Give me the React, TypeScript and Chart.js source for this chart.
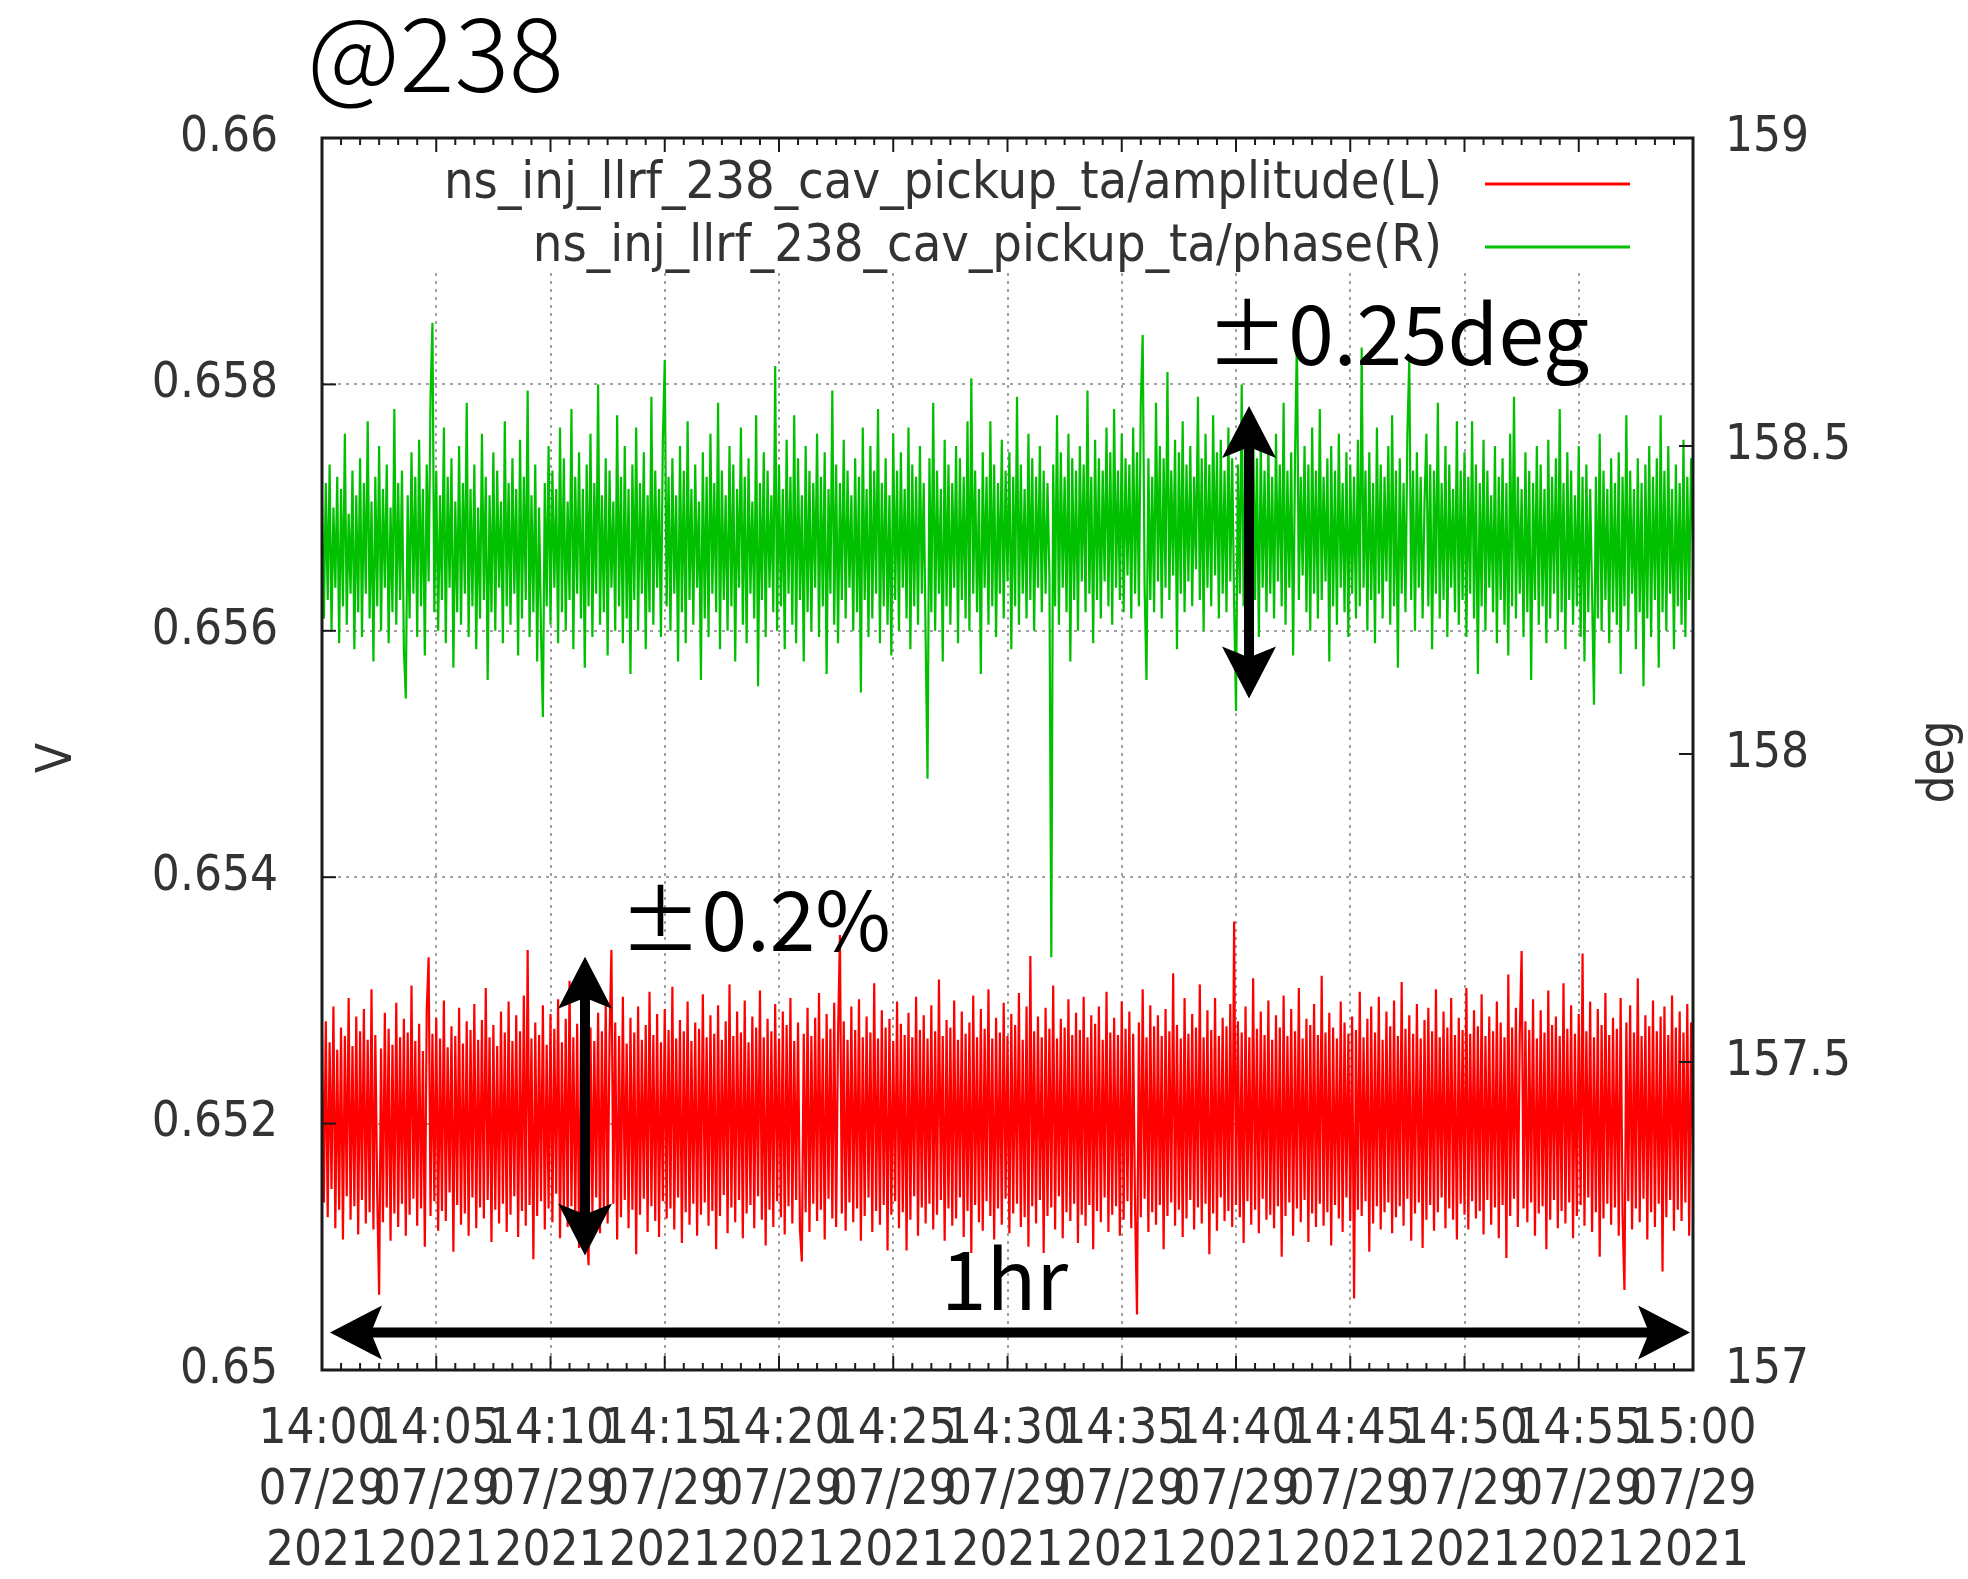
import React, { useEffect, useRef } from 'react';
import { Chart, registerables } from 'chart.js';

Chart.register(...registerables);

const W = 1968;
const H = 1579;

// ---------- data ----------
const timeTickLabels = ['14:00', '14:05', '14:10', '14:15', '14:20', '14:25', '14:30', '14:35', '14:40', '14:45', '14:50', '14:55', '15:00'];
const dateTickLabel = '07/29';
const yearTickLabel = '2021';
const ampTickValues = [0.65, 0.652, 0.654, 0.656, 0.658, 0.66];
const ampTickLabels = ['0.65', '0.652', '0.654', '0.656', '0.658', '0.66'];
const phaseTickValues = [157, 157.5, 158, 158.5, 159];
const phaseTickLabels = ['157', '157.5', '158', '158.5', '159'];
const seriesNames = ['ns_inj_llrf_238_cav_pickup_ta/amplitude(L)', 'ns_inj_llrf_238_cav_pickup_ta/phase(R)'];
const SAMPLE_STEP_MIN = 1 / 12; // one sample every 5 s, x in minutes after 14:00

const amplitude = [
  0.65274, 0.65136, 0.65283, 0.65124, 0.65266, 0.65147, 0.65295, 0.65115, 0.65260, 0.65130, 0.65278, 0.65106, 0.65271, 0.65141, 0.65302, 0.65122, 0.65263, 0.65133, 0.65287, 0.65110,
  0.65275, 0.65138, 0.65293, 0.65119, 0.65268, 0.65128, 0.65309, 0.65114, 0.65272, 0.65143, 0.65061, 0.65261, 0.65120, 0.65290, 0.65132, 0.65277, 0.65105, 0.65264, 0.65127, 0.65298,
  0.65116, 0.65270, 0.65135, 0.65285, 0.65109, 0.65274, 0.65126, 0.65312, 0.65139, 0.65267, 0.65117, 0.65281, 0.65131, 0.65259, 0.65100, 0.65292, 0.65335, 0.65125, 0.65273, 0.65137,
  0.65286, 0.65113, 0.65269, 0.65129, 0.65300, 0.65121, 0.65262, 0.65144, 0.65279, 0.65096, 0.65271, 0.65134, 0.65294, 0.65118, 0.65265, 0.65127, 0.65283, 0.65109, 0.65276, 0.65140,
  0.65297, 0.65115, 0.65268, 0.65132, 0.65284, 0.65123, 0.65310, 0.65138, 0.65270, 0.65104, 0.65280, 0.65130, 0.65263, 0.65119, 0.65291, 0.65135, 0.65274, 0.65112, 0.65299, 0.65126,
  0.65267, 0.65141, 0.65288, 0.65108, 0.65275, 0.65129, 0.65304, 0.65117, 0.65341, 0.65134, 0.65269, 0.65090, 0.65282, 0.65125, 0.65272, 0.65137, 0.65296, 0.65114, 0.65264, 0.65131,
  0.65289, 0.65120, 0.65277, 0.65143, 0.65301, 0.65107, 0.65266, 0.65128, 0.65285, 0.65116, 0.65316, 0.65133, 0.65270, 0.65122, 0.65281, 0.65099, 0.65273, 0.65136, 0.65293, 0.65113,
  0.65085, 0.65278, 0.65127, 0.65267, 0.65140, 0.65290, 0.65111, 0.65275, 0.65132, 0.65298, 0.65119, 0.65269, 0.65341, 0.65135, 0.65282, 0.65106, 0.65271, 0.65124, 0.65303, 0.65138,
  0.65265, 0.65115, 0.65286, 0.65130, 0.65274, 0.65094, 0.65295, 0.65126, 0.65268, 0.65139, 0.65280, 0.65112, 0.65307, 0.65133, 0.65272, 0.65121, 0.65289, 0.65108, 0.65266, 0.65137,
  0.65293, 0.65123, 0.65276, 0.65131, 0.65311, 0.65114, 0.65269, 0.65140, 0.65284, 0.65103, 0.65275, 0.65128, 0.65299, 0.65118, 0.65267, 0.65135, 0.65282, 0.65109, 0.65277, 0.65126,
  0.65305, 0.65136, 0.65270, 0.65117, 0.65288, 0.65129, 0.65273, 0.65098, 0.65296, 0.65125, 0.65268, 0.65142, 0.65283, 0.65111, 0.65313, 0.65132, 0.65271, 0.65120, 0.65291, 0.65138,
  0.65274, 0.65107, 0.65300, 0.65127, 0.65266, 0.65134, 0.65287, 0.65115, 0.65278, 0.65141, 0.65308, 0.65122, 0.65270, 0.65101, 0.65285, 0.65130, 0.65275, 0.65116, 0.65297, 0.65137,
  0.65269, 0.65124, 0.65291, 0.65110, 0.65280, 0.65133, 0.65302, 0.65119, 0.65267, 0.65138, 0.65282, 0.65114, 0.65088, 0.65273, 0.65128, 0.65294, 0.65112, 0.65271, 0.65135, 0.65286,
  0.65121, 0.65306, 0.65130, 0.65269, 0.65106, 0.65289, 0.65139, 0.65277, 0.65123, 0.65298, 0.65116, 0.65272, 0.65353, 0.65127, 0.65283, 0.65113, 0.65268, 0.65136, 0.65295, 0.65120,
  0.65276, 0.65131, 0.65301, 0.65105, 0.65270, 0.65125, 0.65287, 0.65140, 0.65274, 0.65112, 0.65314, 0.65129, 0.65269, 0.65118, 0.65292, 0.65134, 0.65278, 0.65097, 0.65285, 0.65126,
  0.65267, 0.65137, 0.65299, 0.65115, 0.65281, 0.65128, 0.65272, 0.65097, 0.65290, 0.65122, 0.65270, 0.65141, 0.65303, 0.65109, 0.65276, 0.65132, 0.65288, 0.65119, 0.65269, 0.65135,
  0.65296, 0.65114, 0.65275, 0.65126, 0.65317, 0.65138, 0.65271, 0.65105, 0.65284, 0.65131, 0.65278, 0.65117, 0.65300, 0.65123, 0.65268, 0.65140, 0.65291, 0.65108, 0.65273, 0.65129,
  0.65282, 0.65095, 0.65304, 0.65134, 0.65270, 0.65120, 0.65293, 0.65113, 0.65277, 0.65137, 0.65309, 0.65125, 0.65269, 0.65106, 0.65286, 0.65131, 0.65274, 0.65118, 0.65298, 0.65139,
  0.65271, 0.65111, 0.65289, 0.65127, 0.65280, 0.65135, 0.65306, 0.65116, 0.65268, 0.65124, 0.65295, 0.65100, 0.65336, 0.65133, 0.65275, 0.65119, 0.65287, 0.65138, 0.65270, 0.65095,
  0.65294, 0.65125, 0.65277, 0.65132, 0.65312, 0.65114, 0.65269, 0.65141, 0.65285, 0.65107, 0.65278, 0.65128, 0.65301, 0.65121, 0.65272, 0.65135, 0.65290, 0.65103, 0.65276, 0.65126,
  0.65303, 0.65117, 0.65270, 0.65134, 0.65288, 0.65098, 0.65281, 0.65129, 0.65295, 0.65120, 0.65268, 0.65140, 0.65307, 0.65112, 0.65274, 0.65126, 0.65286, 0.65133, 0.65272, 0.65109,
  0.65299, 0.65122, 0.65277, 0.65137, 0.65291, 0.65115, 0.65273, 0.65131, 0.65045, 0.65282, 0.65124, 0.65309, 0.65139, 0.65270, 0.65112, 0.65296, 0.65128, 0.65279, 0.65118, 0.65288,
  0.65134, 0.65271, 0.65098, 0.65293, 0.65125, 0.65275, 0.65136, 0.65322, 0.65117, 0.65280, 0.65130, 0.65269, 0.65108, 0.65302, 0.65123, 0.65273, 0.65138, 0.65289, 0.65114, 0.65278,
  0.65132, 0.65313, 0.65119, 0.65270, 0.65135, 0.65292, 0.65094, 0.65276, 0.65127, 0.65302, 0.65113, 0.65271, 0.65140, 0.65286, 0.65121, 0.65279, 0.65129, 0.65297, 0.65116, 0.65364,
  0.65134, 0.65283, 0.65124, 0.65274, 0.65103, 0.65295, 0.65137, 0.65270, 0.65118, 0.65318, 0.65130, 0.65277, 0.65111, 0.65291, 0.65139, 0.65272, 0.65122, 0.65300, 0.65126, 0.65268,
  0.65115, 0.65288, 0.65133, 0.65278, 0.65092, 0.65304, 0.65125, 0.65271, 0.65136, 0.65293, 0.65109, 0.65275, 0.65131, 0.65310, 0.65120, 0.65269, 0.65138, 0.65285, 0.65104, 0.65280,
  0.65127, 0.65297, 0.65116, 0.65272, 0.65135, 0.65320, 0.65117, 0.65274, 0.65128, 0.65290, 0.65101, 0.65278, 0.65134, 0.65269, 0.65123, 0.65299, 0.65112, 0.65282, 0.65140, 0.65273,
  0.65121, 0.65287, 0.65058, 0.65276, 0.65130, 0.65307, 0.65125, 0.65270, 0.65137, 0.65285, 0.65096, 0.65295, 0.65119, 0.65274, 0.65133, 0.65303, 0.65114, 0.65268, 0.65128, 0.65291,
  0.65136, 0.65279, 0.65111, 0.65300, 0.65124, 0.65271, 0.65133, 0.65315, 0.65117, 0.65277, 0.65139, 0.65288, 0.65105, 0.65273, 0.65127, 0.65297, 0.65136, 0.65269, 0.65099, 0.65284,
  0.65122, 0.65294, 0.65134, 0.65275, 0.65113, 0.65309, 0.65128, 0.65270, 0.65140, 0.65291, 0.65115, 0.65278, 0.65131, 0.65302, 0.65122, 0.65272, 0.65106, 0.65286, 0.65135, 0.65276,
  0.65126, 0.65310, 0.65114, 0.65273, 0.65137, 0.65292, 0.65123, 0.65279, 0.65129, 0.65305, 0.65110, 0.65271, 0.65138, 0.65287, 0.65118, 0.65275, 0.65132, 0.65299, 0.65107, 0.65282,
  0.65134, 0.65270, 0.65091, 0.65321, 0.65125, 0.65278, 0.65139, 0.65294, 0.65116, 0.65272, 0.65340, 0.65131, 0.65283, 0.65120, 0.65276, 0.65136, 0.65301, 0.65109, 0.65269, 0.65127,
  0.65292, 0.65133, 0.65274, 0.65098, 0.65308, 0.65122, 0.65280, 0.65138, 0.65287, 0.65115, 0.65271, 0.65129, 0.65314, 0.65119, 0.65277, 0.65136, 0.65296, 0.65107, 0.65273, 0.65125,
  0.65289, 0.65134, 0.65338, 0.65117, 0.65275, 0.65140, 0.65299, 0.65112, 0.65270, 0.65128, 0.65293, 0.65092, 0.65280, 0.65123, 0.65306, 0.65135, 0.65272, 0.65118, 0.65286, 0.65132,
  0.65277, 0.65109, 0.65302, 0.65126, 0.65065, 0.65282, 0.65137, 0.65296, 0.65114, 0.65274, 0.65131, 0.65318, 0.65120, 0.65271, 0.65139, 0.65288, 0.65106, 0.65279, 0.65128, 0.65300,
  0.65116, 0.65275, 0.65135, 0.65287, 0.65080, 0.65295, 0.65124, 0.65272, 0.65138, 0.65304, 0.65113, 0.65278, 0.65130, 0.65291, 0.65121, 0.65274, 0.65136, 0.65297, 0.65109, 0.65282,
  0.65166,
];

const phase = [
  158.41, 158.22, 158.44, 158.25, 158.47, 158.20, 158.40, 158.27, 158.45, 158.18, 158.43, 158.24, 158.52, 158.21, 158.39, 158.26, 158.46, 158.17, 158.42, 158.23,
  158.48, 158.19, 158.44, 158.26, 158.54, 158.22, 158.41, 158.15, 158.45, 158.24, 158.50, 158.20, 158.43, 158.27, 158.47, 158.18, 158.40, 158.23, 158.56, 158.21,
  158.44, 158.25, 158.46, 158.17, 158.09, 158.42, 158.22, 158.49, 158.26, 158.45, 158.19, 158.51, 158.24, 158.43, 158.16, 158.47, 158.28, 158.58, 158.70, 158.23,
  158.46, 158.20, 158.42, 158.25, 158.53, 158.18, 158.45, 158.27, 158.48, 158.14, 158.41, 158.23, 158.50, 158.21, 158.44, 158.26, 158.57, 158.19, 158.43, 158.24,
  158.47, 158.17, 158.40, 158.22, 158.52, 158.25, 158.45, 158.12, 158.42, 158.23, 158.49, 158.20, 158.46, 158.27, 158.41, 158.18, 158.54, 158.24, 158.44, 158.21,
  158.48, 158.26, 158.43, 158.16, 158.51, 158.22, 158.45, 158.25, 158.59, 158.19, 158.42, 158.23, 158.47, 158.15, 158.40, 158.20, 158.06, 158.44, 158.24, 158.50,
  158.21, 158.46, 158.27, 158.43, 158.18, 158.53, 158.23, 158.48, 158.20, 158.41, 158.25, 158.56, 158.17, 158.45, 158.26, 158.49, 158.22, 158.43, 158.14, 158.47,
  158.24, 158.52, 158.19, 158.44, 158.26, 158.60, 158.21, 158.42, 158.23, 158.48, 158.16, 158.46, 158.27, 158.41, 158.20, 158.55, 158.24, 158.45, 158.18, 158.50,
  158.22, 158.43, 158.13, 158.47, 158.25, 158.53, 158.20, 158.44, 158.26, 158.49, 158.17, 158.42, 158.23, 158.58, 158.21, 158.46, 158.27, 158.43, 158.19, 158.51,
  158.64, 158.24, 158.45, 158.20, 158.48, 158.26, 158.42, 158.15, 158.50, 158.23, 158.46, 158.18, 158.54, 158.25, 158.43, 158.21, 158.47, 158.27, 158.41, 158.12,
  158.49, 158.22, 158.45, 158.19, 158.52, 158.26, 158.44, 158.23, 158.57, 158.17, 158.46, 158.25, 158.42, 158.20, 158.50, 158.24, 158.47, 158.15, 158.43, 158.27,
  158.53, 158.21, 158.45, 158.18, 158.48, 158.26, 158.41, 158.22, 158.55, 158.11, 158.44, 158.25, 158.49, 158.19, 158.46, 158.27, 158.42, 158.23, 158.63, 158.20,
  158.47, 158.24, 158.43, 158.17, 158.51, 158.26, 158.45, 158.21, 158.55, 158.18, 158.48, 158.25, 158.42, 158.15, 158.50, 158.23, 158.46, 158.20, 158.44, 158.27,
  158.52, 158.19, 158.45, 158.24, 158.49, 158.13, 158.43, 158.26, 158.59, 158.21, 158.47, 158.18, 158.44, 158.25, 158.51, 158.22, 158.46, 158.27, 158.42, 158.20,
  158.48, 158.23, 158.45, 158.10, 158.53, 158.25, 158.43, 158.19, 158.50, 158.22, 158.46, 158.26, 158.56, 158.18, 158.44, 158.24, 158.48, 158.21, 158.42, 158.16,
  158.52, 158.25, 158.46, 158.20, 158.49, 158.27, 158.43, 158.22, 158.53, 158.17, 158.47, 158.24, 158.45, 158.21, 158.50, 158.26, 158.44, 158.19, 157.96, 158.48,
  158.23, 158.57, 158.20, 158.46, 158.26, 158.43, 158.15, 158.51, 158.24, 158.47, 158.21, 158.44, 158.27, 158.50, 158.18, 158.48, 158.25, 158.45, 158.22, 158.54,
  158.20, 158.61, 158.26, 158.46, 158.23, 158.43, 158.13, 158.49, 158.27, 158.45, 158.21, 158.54, 158.24, 158.47, 158.19, 158.44, 158.26, 158.51, 158.22, 158.46,
  158.28, 158.49, 158.17, 158.45, 158.24, 158.58, 158.21, 158.47, 158.26, 158.43, 158.22, 158.52, 158.25, 158.48, 158.20, 158.45, 158.27, 158.50, 158.23, 158.46,
  158.26, 158.44, 158.29, 157.67, 158.47, 158.24, 158.55, 158.21, 158.49, 158.27, 158.45, 158.23, 158.52, 158.15, 158.48, 158.25, 158.46, 158.20, 158.50, 158.28,
  158.47, 158.23, 158.59, 158.26, 158.45, 158.18, 158.51, 158.25, 158.48, 158.22, 158.46, 158.28, 158.53, 158.24, 158.49, 158.21, 158.56, 158.27, 158.46, 158.25,
  158.52, 158.23, 158.48, 158.29, 158.47, 158.22, 158.53, 158.26, 158.49, 158.24, 158.57, 158.68, 158.27, 158.12, 158.48, 158.25, 158.45, 158.23, 158.57, 158.28,
  158.50, 158.22, 158.48, 158.27, 158.62, 158.25, 158.46, 158.29, 158.51, 158.17, 158.49, 158.26, 158.54, 158.23, 158.47, 158.28, 158.50, 158.24, 158.45, 158.30,
  158.58, 158.25, 158.48, 158.20, 158.52, 158.27, 158.47, 158.24, 158.55, 158.29, 158.49, 158.22, 158.51, 158.26, 158.46, 158.23, 158.53, 158.28, 158.48, 158.25,
  158.07, 158.47, 158.26, 158.60, 158.24, 158.49, 158.29, 158.46, 158.21, 158.55, 158.25, 158.48, 158.19, 158.51, 158.27, 158.46, 158.23, 158.50, 158.26, 158.45,
  158.22, 158.52, 158.28, 158.47, 158.24, 158.57, 158.21, 158.46, 158.27, 158.49, 158.16, 158.48, 158.68, 158.25, 158.45, 158.29, 158.50, 158.23, 158.47, 158.20,
  158.53, 158.26, 158.46, 158.22, 158.56, 158.25, 158.45, 158.28, 158.48, 158.15, 158.50, 158.24, 158.46, 158.21, 158.52, 158.27, 158.44, 158.23, 158.49, 158.19,
  158.47, 158.26, 158.45, 158.22, 158.51, 158.24, 158.66, 158.27, 158.46, 158.20, 158.49, 158.25, 158.44, 158.18, 158.53, 158.26, 158.47, 158.22, 158.45, 158.28,
  158.50, 158.21, 158.55, 158.24, 158.46, 158.14, 158.48, 158.26, 158.44, 158.23, 158.52, 158.64, 158.25, 158.46, 158.20, 158.49, 158.27, 158.45, 158.22, 158.41,
  158.52, 158.24, 158.47, 158.17, 158.46, 158.26, 158.57, 158.22, 158.44, 158.25, 158.50, 158.19, 158.47, 158.27, 158.43, 158.23, 158.54, 158.21, 158.46, 158.25,
  158.49, 158.19, 158.45, 158.26, 158.54, 158.22, 158.47, 158.13, 158.44, 158.24, 158.51, 158.20, 158.46, 158.27, 158.42, 158.23, 158.50, 158.18, 158.45, 158.25,
  158.48, 158.21, 158.44, 158.16, 158.52, 158.24, 158.58, 158.22, 158.45, 158.26, 158.43, 158.19, 158.49, 158.23, 158.46, 158.12, 158.44, 158.25, 158.50, 158.21,
  158.47, 158.24, 158.43, 158.18, 158.51, 158.22, 158.45, 158.26, 158.48, 158.20, 158.56, 158.23, 158.44, 158.17, 158.49, 158.25, 158.46, 158.21, 158.42, 158.24,
  158.50, 158.19, 158.45, 158.15, 158.47, 158.23, 158.43, 158.26, 158.08, 158.45, 158.22, 158.52, 158.20, 158.46, 158.25, 158.43, 158.18, 158.48, 158.23, 158.44,
  158.21, 158.49, 158.13, 158.45, 158.24, 158.55, 158.20, 158.46, 158.26, 158.43, 158.17, 158.48, 158.23, 158.44, 158.11, 158.47, 158.22, 158.50, 158.19, 158.45,
  158.25, 158.48, 158.14, 158.55, 158.23, 158.46, 158.20, 158.50, 158.26, 158.43, 158.17, 158.47, 158.24, 158.44, 158.21, 158.51, 158.19, 158.45, 158.25, 158.48,
  158.34,
];

// ---------- annotations (data coordinates) ----------
const vArrows = [
  { axis: 'y1', x: 40.57, from: 158.565, to: 158.09 },
  { axis: 'y', x: 11.51, from: 0.653355, to: 0.650929 },
];
const hArrow = { axis: 'y', y: 0.650304, from: 0.35, to: 59.87 };
const notes = [
  { text: '±0.25deg', axis: 'y1', x: 38.7, y: 158.632 },
  { text: '±0.2%', axis: 'y', x: 13.02, y: 0.653404 },
  { text: '1hr', axis: 'y', x: 27.09, y: 0.650483 },
];

// ---------- styles ----------
const RED = '#ff0000';
const GREEN = '#00c000';
const TEXT_GRAY = '#333333';
const GRID_GRAY = '#a0a0a0';
const AXIS_COLOR = '#1a1a1a';
const TICK_FONT_FAMILY = '"DejaVu Sans Condensed", "Liberation Sans Narrow", "DejaVu Sans", sans-serif';
const TICK_FONT_SIZE = 49;
const LEGEND_FONT_SIZE = 52;
const NOTE_FONT = '400 82px "Noto Sans CJK JP", "Noto Sans CJK SC", sans-serif';
const TITLE_FONT = '300 102px "Noto Sans CJK JP", "Noto Sans CJK SC", sans-serif';
const X_MINOR_DIV = 6;
const LEGEND_BOTTOM = 273;
const SERIES_LINE_WIDTH = 2.2;

function drawHead(ctx: CanvasRenderingContext2D, tx: number, ty: number, ux: number, uy: number) {
  const HEAD_LEN = 52, HEAD_HALF = 27, HEAD_NOTCH = 41;
  const px = -uy, py = ux;
  ctx.beginPath();
  ctx.moveTo(tx, ty);
  ctx.lineTo(tx + ux * HEAD_LEN + px * HEAD_HALF, ty + uy * HEAD_LEN + py * HEAD_HALF);
  ctx.lineTo(tx + ux * HEAD_NOTCH, ty + uy * HEAD_NOTCH);
  ctx.lineTo(tx + ux * HEAD_LEN - px * HEAD_HALF, ty + uy * HEAD_LEN - py * HEAD_HALF);
  ctx.closePath();
  ctx.fill();
}

function drawDoubleArrow(ctx: CanvasRenderingContext2D, x1: number, y1: number, x2: number, y2: number) {
  const dx = x2 - x1, dy = y2 - y1;
  const len = Math.hypot(dx, dy);
  const ux = dx / len, uy = dy / len;
  ctx.lineWidth = 10;
  ctx.lineCap = 'butt';
  ctx.beginPath();
  ctx.moveTo(x1 + ux * 30, y1 + uy * 30);
  ctx.lineTo(x2 - ux * 30, y2 - uy * 30);
  ctx.stroke();
  drawHead(ctx, x1, y1, ux, uy);
  drawHead(ctx, x2, y2, -ux, -uy);
}

const overlayPlugin = {
  id: 'gnuplotOverlay',
  beforeDatasetsDraw(chart: any) {
    const { ctx, chartArea: a, scales } = chart;
    const xs = scales.x;
    ctx.save();
    ctx.strokeStyle = GRID_GRAY;
    ctx.lineWidth = 2;
    ctx.setLineDash([3, 5]);
    xs.ticks.forEach((t: any) => {
      if (t.value <= xs.min || t.value >= xs.max) return;
      const px = Math.round(xs.getPixelForValue(t.value));
      ctx.beginPath();
      ctx.moveTo(px, LEGEND_BOTTOM);
      ctx.lineTo(px, a.bottom);
      ctx.stroke();
    });
    ctx.restore();
  },
  afterDatasetsDraw(chart: any) {
    const { ctx, chartArea: a, scales } = chart;
    const xs = scales.x, yl = scales.y, yr = scales.y1;
    const line = (x1: number, y1: number, x2: number, y2: number) => {
      ctx.beginPath();
      ctx.moveTo(x1, y1);
      ctx.lineTo(x2, y2);
      ctx.stroke();
    };
    ctx.save();
    ctx.setLineDash([]);
    // inward ticks
    ctx.strokeStyle = AXIS_COLOR;
    ctx.lineWidth = 2;
    const majors = xs.ticks.map((t: any) => t.value);
    majors.forEach((m: number, i: number) => {
      const px = xs.getPixelForValue(m);
      line(px, a.bottom, px, a.bottom - 14);
      line(px, a.top, px, a.top + 14);
      if (i < majors.length - 1) {
        const step = (majors[i + 1] - m) / X_MINOR_DIV;
        for (let k = 1; k < X_MINOR_DIV; k++) {
          const mp = xs.getPixelForValue(m + k * step);
          line(mp, a.bottom, mp, a.bottom - 7);
          line(mp, a.top, mp, a.top + 7);
        }
      }
    });
    yl.ticks.forEach((t: any) => {
      const py = yl.getPixelForValue(t.value);
      line(a.left, py, a.left + 14, py);
    });
    yr.ticks.forEach((t: any) => {
      const py = yr.getPixelForValue(t.value);
      line(a.right, py, a.right - 14, py);
    });
    // border
    ctx.lineWidth = 3;
    ctx.strokeRect(a.left, a.top, a.right - a.left, a.bottom - a.top);

    // legend
    ctx.font = `${LEGEND_FONT_SIZE}px ${TICK_FONT_FAMILY}`;
    ctx.fillStyle = TEXT_GRAY;
    ctx.textAlign = 'right';
    ctx.textBaseline = 'middle';
    const legendRows = [184, 247];
    const legendColors = [RED, GREEN];
    seriesNames.forEach((name, i) => {
      ctx.fillText(name, 1442, legendRows[i]);
      ctx.strokeStyle = legendColors[i];
      ctx.lineWidth = 3;
      line(1485, legendRows[i], 1630, legendRows[i]);
    });

    // axis titles
    ctx.font = `${TICK_FONT_SIZE}px ${TICK_FONT_FAMILY}`;
    ctx.fillStyle = TEXT_GRAY;
    ctx.textAlign = 'center';
    ctx.textBaseline = 'middle';
    ctx.save();
    ctx.translate(58, (a.top + a.bottom) / 2 + 4);
    ctx.rotate(-Math.PI / 2);
    ctx.fillText('V', 0, 0);
    ctx.restore();
    ctx.save();
    ctx.translate(1940, (a.top + a.bottom) / 2 + 8);
    ctx.rotate(-Math.PI / 2);
    ctx.fillText('deg', 0, 0);
    ctx.restore();

    // title
    ctx.fillStyle = '#000000';
    ctx.font = TITLE_FONT;
    ctx.textAlign = 'left';
    ctx.textBaseline = 'alphabetic';
    ctx.fillText('@238', 307, 92);

    // arrows
    ctx.fillStyle = '#000000';
    ctx.strokeStyle = '#000000';
    vArrows.forEach((ar) => {
      const s = scales[ar.axis];
      const px = xs.getPixelForValue(ar.x);
      drawDoubleArrow(ctx, px, s.getPixelForValue(ar.from), px, s.getPixelForValue(ar.to));
    });
    {
      const s = scales[hArrow.axis];
      const py = s.getPixelForValue(hArrow.y);
      drawDoubleArrow(ctx, xs.getPixelForValue(hArrow.from), py, xs.getPixelForValue(hArrow.to), py);
    }
    // notes
    ctx.font = NOTE_FONT;
    ctx.textAlign = 'left';
    ctx.textBaseline = 'alphabetic';
    notes.forEach((n) => {
      const s = scales[n.axis];
      ctx.fillText(n.text, xs.getPixelForValue(n.x), s.getPixelForValue(n.y));
    });
    ctx.restore();
  },
};

export default function App() {
  const canvasRef = useRef<HTMLCanvasElement | null>(null);

  useEffect(() => {
    const canvas = canvasRef.current;
    if (!canvas) return;
    const tickFont = { family: TICK_FONT_FAMILY, size: TICK_FONT_SIZE, lineHeight: 61 / 49 };
    const chart = new Chart(canvas, {
      type: 'line',
      data: {
        datasets: [
          {
            label: seriesNames[0],
            data: amplitude.map((v, i) => ({ x: i * SAMPLE_STEP_MIN, y: v })),
            borderColor: RED,
            backgroundColor: RED,
            borderWidth: SERIES_LINE_WIDTH,
            borderJoinStyle: 'bevel',
            pointRadius: 0,
            tension: 0,
            yAxisID: 'y',
          },
          {
            label: seriesNames[1],
            data: phase.map((v, i) => ({ x: i * SAMPLE_STEP_MIN, y: v })),
            borderColor: GREEN,
            backgroundColor: GREEN,
            borderWidth: SERIES_LINE_WIDTH,
            borderJoinStyle: 'bevel',
            pointRadius: 0,
            tension: 0,
            yAxisID: 'y1',
          },
        ],
      },
      options: {
        responsive: false,
        animation: false,
        events: [],
        layout: { padding: { top: 138, left: 0, right: 0, bottom: 0 } },
        plugins: {
          legend: { display: false },
          tooltip: { enabled: false },
          title: { display: false },
        },
        scales: {
          x: {
            type: 'linear',
            min: 0,
            max: 60,
            grid: { display: false, drawTicks: false },
            border: { display: false },
            afterFit: (scale: any) => { scale.height = 209; },
            ticks: {
              stepSize: 5,
              autoSkip: false,
              maxRotation: 0,
              minRotation: 0,
              padding: 30,
              color: TEXT_GRAY,
              font: tickFont,
              callback: (value: any) => {
                const idx = Math.round(Number(value) / 5);
                return [timeTickLabels[idx], dateTickLabel, yearTickLabel];
              },
            },
          },
          y: {
            type: 'linear',
            position: 'left',
            min: 0.65,
            max: 0.66,
            afterBuildTicks: (scale: any) => { scale.ticks = ampTickValues.map((v) => ({ value: v })); },
            afterFit: (scale: any) => { scale.width = 322; },
            grid: { color: GRID_GRAY, lineWidth: 2, drawTicks: false },
            border: { display: false, dash: [3, 5] },
            ticks: {
              padding: 44,
              color: TEXT_GRAY,
              font: tickFont,
              callback: (value: any) => {
                const idx = ampTickValues.findIndex((v) => Math.abs(v - Number(value)) < 1e-7);
                return idx >= 0 ? ampTickLabels[idx] : '';
              },
            },
          },
          y1: {
            type: 'linear',
            position: 'right',
            min: 157,
            max: 159,
            afterBuildTicks: (scale: any) => { scale.ticks = phaseTickValues.map((v) => ({ value: v })); },
            afterFit: (scale: any) => { scale.width = 275; },
            grid: { drawOnChartArea: false, drawTicks: false },
            border: { display: false },
            ticks: {
              padding: 32,
              color: TEXT_GRAY,
              font: tickFont,
              callback: (value: any) => {
                const idx = phaseTickValues.findIndex((v) => Math.abs(v - Number(value)) < 1e-7);
                return idx >= 0 ? phaseTickLabels[idx] : '';
              },
            },
          },
        },
      },
      plugins: [overlayPlugin],
    } as any);
    return () => chart.destroy();
  }, []);

  return (
    <div style={{ position: 'absolute', left: 0, top: 0, width: W, height: H, background: '#ffffff' }}>
      <canvas ref={canvasRef} width={W} height={H} style={{ display: 'block', width: W, height: H }} />
    </div>
  );
}
